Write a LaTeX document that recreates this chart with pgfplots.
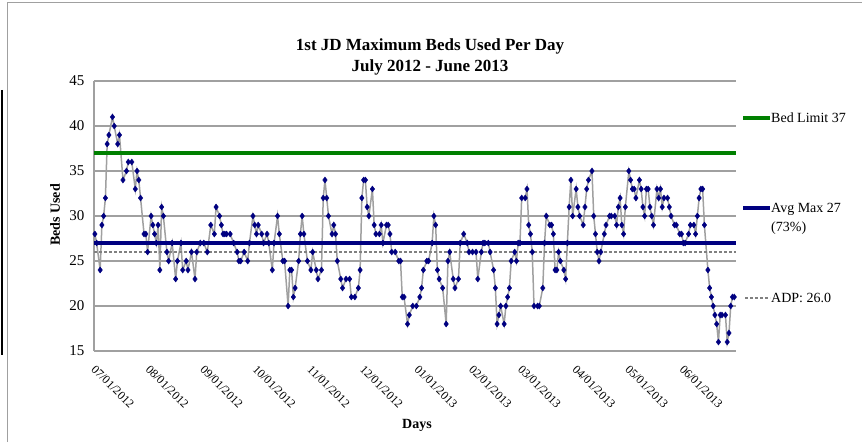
\documentclass[border=0pt]{standalone}
\usepackage{fontspec}
\setmainfont{Liberation Serif}
\usepackage{pgfplots}
\pgfplotsset{compat=1.18}
\definecolor{bedgreen}{RGB}{0,128,0}
\definecolor{navyb}{RGB}{0,0,128}
\definecolor{gridgray}{RGB}{160,160,160}
\definecolor{linegray}{RGB}{160,160,160}
\begin{document}
\begin{tikzpicture}[x=1pt,y=1pt]
\begin{axis}[
  at={(0,0)}, anchor=south west,
  scale only axis, width=642pt, height=270pt,
  xmin=-0.5, xmax=365, ymin=15, ymax=45,
  ytick={15,20,...,45},
  xtick={0,31,62,92,123,153,184,215,243,274,304,335},
  xticklabels={07/01/2012,08/01/2012,09/01/2012,10/01/2012,11/01/2012,12/01/2012,01/01/2013,02/01/2013,03/01/2013,04/01/2013,05/01/2013,06/01/2013},
  xticklabel style={rotate=-45, anchor=north west, font=\fontsize{12}{12}\selectfont, yshift=-5pt, xshift=7pt},
  yticklabel style={font=\fontsize{15}{15}\selectfont, xshift=-6pt},
  /pgf/number format/assume math mode=true,
  axis x line*=bottom, axis y line*=left,
  axis line style={gridgray, line width=1.6pt, -},
  ymajorgrids, grid style={gridgray, line width=1.2pt},
  major tick length=0pt,
  clip=false,
]
\addplot[linegray, line width=1.5pt, mark=diamond*, mark size=3pt,
  mark options={navyb, fill=navyb, line width=0.4pt}] coordinates {
(0,28) (1,27) (3,24) (4,29) (5,30) (6,32) (7,38) (8,39) (10,41) (11,40) (13,38) (14,39) (16,34) (18,35) (19,36) (21,36) (23,33) (24,35) (25,34) (26,32) (28,28) (29,28) (30,26) (32,30) (33,29) (34,28) (35,27) (36,29) (37,24) (38,31) (39,30) (41,26) (42,25) (44,27) (46,23) (47,25) (49,27) (50,24) (52,25) (53,24) (55,26) (57,23) (58,26) (60,27) (62,27) (64,26) (66,29) (68,28) (69,31) (71,30) (72,29)
(73,28) (74,28) (75,28) (77,28) (79,27) (81,26) (82,25) (83,25) (85,26) (87,25) (88,27) (90,30) (91,29) (92,28) (93,29) (95,28) (96,27) (98,28) (99,27) (101,24) (102,27) (104,30) (105,28) (107,25) (108,25) (110,20) (111,24) (112,24) (113,21) (114,22) (116,25) (117,28) (118,30) (119,28) (121,25) (123,24) (124,26) (126,24) (127,23) (129,24) (130,32) (131,34) (132,32) (133,30) (135,28) (136,29) (137,28) (138,25) (140,23) (141,22) (143,23) (145,23)
(146,21) (148,21) (150,22) (151,24) (152,32) (153,34) (154,34) (155,31) (156,30) (158,33) (159,29) (160,28) (162,28) (163,29) (164,27) (166,29) (167,29) (168,28) (169,26) (171,26) (173,25) (174,25) (175,21) (176,21) (178,18) (179,19) (181,20) (183,20) (185,21) (186,22) (187,24) (189,25) (190,25) (192,27) (193,30) (194,29) (195,24) (196,23) (198,22) (200,18) (201,25) (202,26) (204,23) (205,22) (207,23) (208,27) (210,28) (212,27) (213,26) (215,26) (217,26) (218,23)
(220,26) (221,27) (222,27) (224,27) (225,26) (227,24) (228,22) (229,18) (230,19) (231,20) (233,18) (234,20) (235,21) (236,22) (237,25) (239,26) (240,25) (241,27) (242,27) (243,32) (245,32) (246,33) (247,29) (248,28) (249,26) (250,20) (252,20) (253,20) (255,22) (256,27) (257,30) (259,29) (260,29) (261,28) (262,24) (263,24) (264,26) (265,25) (267,24) (268,23) (269,27) (270,31) (271,34) (272,30) (274,33) (275,31) (276,30) (278,29) (279,31) (280,33) (281,34) (283,35) (284,30) (285,28) (286,26) (287,25) (288,26) (290,28) (291,29) (293,30) (294,30)
(296,30) (297,29) (298,31) (299,32) (300,29) (301,28) (302,31) (304,35) (305,34) (306,33) (307,33) (308,32) (310,34) (311,33) (312,31) (313,30) (314,33) (315,33) (316,31) (317,30) (318,29) (320,33) (321,32) (322,33) (323,31) (324,32) (326,32) (327,31) (328,30) (330,29) (331,29) (333,28) (334,28) (335,27) (336,27) (338,28) (339,29) (341,29) (342,28) (343,30) (344,32) (345,33) (346,33) (347,29) (349,24) (350,22) (351,21) (352,20) (353,19) (354,18) (355,16) (356,19) (357,19) (359,19) (360,16) (361,17) (362,20) (363,21) (364,21)
};
\addplot[bedgreen, line width=4pt] coordinates {(-0.5,37) (365,37)};
\addplot[navyb, line width=4pt] coordinates {(-0.5,27) (365,27)};
\addplot[gray, densely dashed, line width=1.2pt] coordinates {(-0.5,26) (365,26)};
\end{axis}
% titles and labels
\node[font=\fontsize{17}{21}\selectfont\bfseries, align=center] at (336,294) {1st JD Maximum Beds Used Per Day\\July 2012 - June 2013};
\node[font=\fontsize{14}{14}\selectfont\bfseries] at (323,-74) {Days};
\node[font=\fontsize{14}{14}\selectfont\bfseries, rotate=90] at (-39,136) {Beds Used};
% legend
\draw[bedgreen, line width=4pt] (649,233) -- (676,233);
\node[anchor=west, font=\fontsize{14}{14}\selectfont, inner sep=1pt] at (676,233) {Bed Limit 37};
\draw[navyb, line width=4pt] (649,143) -- (676,143);
\node[anchor=base west, font=\fontsize{14}{14}\selectfont, inner sep=1pt] at (676,138) {Avg Max 27};
\node[anchor=base west, font=\fontsize{14}{14}\selectfont, inner sep=1pt] at (676,119) {(73\%)};
\draw[gray, densely dashed, line width=1.2pt] (651,53) -- (676,53);
\node[anchor=west, font=\fontsize{14}{14}\selectfont, inner sep=1pt] at (676,53) {ADP: 26.0};
% frame
\draw[gridgray, line width=1pt] (-86,-91) -- (-86,348) -- (768,348);
\draw[black, line width=1.5pt] (-92,261) -- (-92,-4);
\pgfresetboundingbox
\path[use as bounding box] (-94,-91) rectangle (768,351);
\end{tikzpicture}
\end{document}
